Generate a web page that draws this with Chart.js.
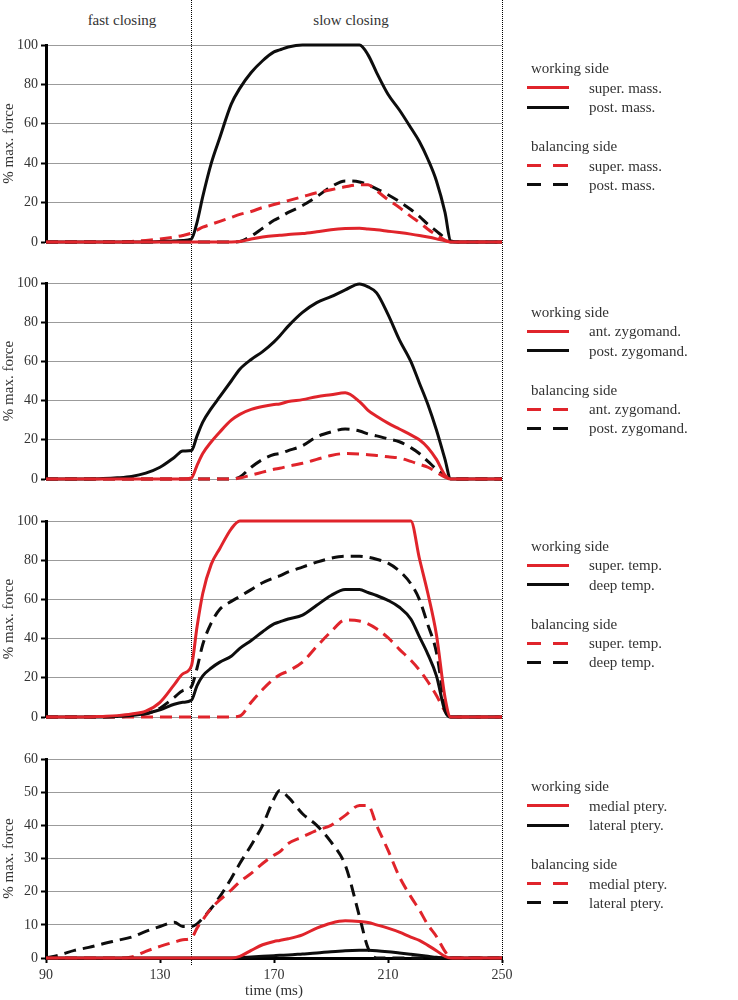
<!DOCTYPE html>
<html>
<head>
<meta charset="utf-8">
<title>Muscle force during closing</title>
<script src="https://cdn.jsdelivr.net/npm/chart.js@4.4.1/dist/chart.umd.min.js"></script>
<style>
  body { margin: 0; background: #fff; }
  #wrap { position: relative; width: 738px; height: 1000px; font-family: "Liberation Serif", "DejaVu Serif", serif; color: #333; }
  #wrap canvas { position: absolute; left: 0; }
  .phase { position: absolute; top: 20px; font-size: 15px; transform: translate(-50%, -50%); white-space: nowrap; }
  .leg-text { position: absolute; font-size: 15px; white-space: nowrap; transform: translateY(-50%); line-height: 1; }
  .leg-line { position: absolute; height: 3px; }
</style>
</head>
<body>
<div id="wrap">
  <div class="phase" style="left:122px">fast closing</div>
  <div class="phase" style="left:351px">slow closing</div>
  <canvas id="panel1" width="738" height="262" style="top:0px"></canvas>
  <canvas id="panel2" width="738" height="238" style="top:262px"></canvas>
  <canvas id="panel3" width="738" height="238" style="top:500px"></canvas>
  <canvas id="panel4" width="738" height="262" style="top:738px"></canvas>
</div>
<script>
// time (ms) of each sample, shared by all the traces
const time = [90, 95, 100, 105, 110, 115, 120, 125, 130, 135, 138, 141, 143, 145, 148, 151, 155, 158, 162, 166, 170, 172, 175, 180, 185, 190, 195, 200, 203, 206, 210, 214, 218, 221, 224, 227, 230, 232, 235, 240, 245, 250];

// fast / slow closing boundaries (dotted lines)
const phaseBounds = [141, 250];
const xTicks = [90, 130, 170, 210, 250];

// masseter
const superMassWork = [0,0,0,0,0,0,0,0,0,0,0,0,0,0,0,0,0,0.2,1.5,2.5,3.2,3.4,3.8,4.3,5.2,6.2,6.8,7,6.6,6.2,5.5,4.8,4,3.3,2.5,1.6,0.6,0,0,0,0,0];
const postMassWork = [0,0,0,0,0,0,0,0,0.3,0.5,0.8,1.5,10,23,40,53,70,78,86,92,96.5,97.5,99,100,100,100,100,100,95,86,75,67,58,51,42,31,15,0.5,0,0,0,0];
const superMassBal = [0,0,0,0,0,0,0.3,0.8,1.5,2.5,3.3,4.5,6,7.5,9,10.5,12.5,14,15.5,17.5,19,19.8,21,23,25,26.5,28,29,29,26,21.5,17.5,13,10,6.5,3.5,1,0,0,0,0,0];
const postMassBal = [0,0,0,0,0,0,0,0,0,0,0,0,0,0,0,0,0,0.3,3,7,11,12.5,15,18.5,23,28,31,30.5,29,27,24,20.5,16.5,13,9,5.5,2,0,0,0,0,0];

// zygomatico-mandibularis
const antZygWork = [0,0,0,0,0,0,0,0,0,0,0,0.5,7,13,19,24,30,33,35.5,37,38,38.3,39.5,40.5,42,43,44,39.5,35,32,28.5,25.5,22.5,20,16,10,2,0,0,0,0,0];
const postZygWork = [0,0,0,0,0.2,0.6,1.3,3,6,11,14.3,14.5,22,29,36,42,50,56,61,65,70,73,78,85,90,93,96.5,99.5,98,95,84,71,60,49,38,25,10,0,0,0,0,0];
const antZygBal = [0,0,0,0,0,0,0,0,0,0,0,0,0,0,0,0,0,0.5,2,3.5,5,5.5,6.5,8,10,12,13,12.8,12.4,12,11.3,10.7,9,7.5,6,3.5,1,0,0,0,0,0];
const postZygBal = [0,0,0,0,0,0,0,0,0,0,0,0,0,0,0,0,0,1,6,10,12.5,13,14.5,17,21.5,24,25.5,24.5,23,22,20.5,19,16,13,9,5,1.5,0,0,0,0,0];

// temporalis
const superTempWork = [0,0,0,0,0.3,0.7,1.5,3,7.5,16.5,22,26,46,63,78,86,96,100,100,100,100,100,100,100,100,100,100,100,100,100,100,100,100,81,63,42,10,0,0,0,0,0];
const deepTempWork = [0,0,0,0,0,0.3,0.8,1.8,3.7,6.5,7.5,8.5,16,21,25,28,31,35,39,43.5,47.5,48.5,50,52,57,62,65,65,63.5,62,59.5,56,50,41,32,21,3,0,0,0,0,0];
const superTempBal = [0,0,0,0,0,0,0,0,0,0,0,0,0,0,0,0,0,0.5,7.5,14,19.5,21.5,23.5,28,36,43.5,49.5,49,47.5,45,40.5,34.5,29,24,18,11,3,0,0,0,0,0];
const deepTempBal = [0,0,0,0,0,0,0.5,1.5,4.5,10,13.5,15.5,25,37,48,55,59,61.5,65,68.5,71,72,74,76.5,79,81,82,82,81.5,80.5,78.5,74.5,68,60,47,33,6,0,0,0,0,0];

// pterygoideus
const medPteryWork = [0,0,0,0,0,0,0,0,0,0,0,0,0,0,0,0,0,0.5,2.3,4,5,5.3,5.8,7,9,10.5,11.2,11,10.7,10,9,7.8,6.3,5.3,3.8,2.2,0.5,0,0,0,0,0];
const latPteryWork = [0,0,0,0,0,0,0,0,0,0,0,0,0,0,0,0,0,0.1,0.3,0.5,0.7,0.8,0.9,1.2,1.5,1.9,2.2,2.3,2.3,2.2,1.9,1.5,1.1,0.8,0.5,0.2,0,0,0,0,0,0];
const medPteryBal = [0,0,0,0,0,0,0.3,2,3.5,4.8,5.5,6,9,11.5,15,17.5,20.5,23,25.5,28.5,31,32,34.5,36.5,38.5,40,43,46,46,40,32.5,24.5,18.5,14.5,10,6.5,2,0,0,0,0,0];
const latPteryBal = [0,1,2.3,3.2,4.3,5.3,6.3,8,9.5,10.8,9.5,9.5,10.3,12,15,18.5,24,28.5,34,40,48,50.5,48.5,43.5,40,35,28,12.5,3,0,0,0,0,0,0,0,0,0,0,0,0,0];

const RED = "#e0242b";
const BLACK = "#0d0d0d";

Chart.defaults.font.family = "'Liberation Serif', 'DejaVu Serif', serif";
Chart.defaults.font.size = 14;
Chart.defaults.color = "#333";

// dotted lines marking the closing phases, drawn across the whole canvas
const phaseLines = {
  id: "phaseLines",
  beforeDatasetsDraw(chart, args, opts) {
    const ctx = chart.ctx;
    const bottom = opts.toAxis ? chart.chartArea.bottom + 8 : chart.height;
    ctx.save();
    ctx.strokeStyle = "#000";
    ctx.lineWidth = 1;
    ctx.setLineDash([1, 1]);
    phaseBounds.forEach((t) => {
      const px = Math.round(chart.scales.x.getPixelForValue(t)) + 0.5;
      ctx.beginPath();
      ctx.moveTo(px, 0);
      ctx.lineTo(px, bottom);
      ctx.stroke();
    });
    ctx.restore();
  },
};

function trace(label, values, color, dashed) {
  return {
    label: label,
    data: time.map((t, i) => ({ x: t, y: values[i] })),
    borderColor: color,
    borderWidth: 3,
    borderDash: dashed ? [12, 7] : [],
    pointRadius: 0,
    cubicInterpolationMode: "monotone",
    fill: false,
    clip: 6,
  };
}

function makePanel(id, traces, yMax, yStep, pad, showX) {
  const xAxis = showX
    ? {
        type: "linear", min: 90, max: 250,
        afterBuildTicks: (s) => { s.ticks = xTicks.map((v) => ({ value: v })); },
        ticks: { padding: 4, maxRotation: 0, autoSkip: false },
        grid: { drawOnChartArea: false, tickLength: 5, tickColor: "#000", tickWidth: 2 },
        border: { color: "#000", width: 3 },
        title: { display: true, text: "time (ms)", font: { size: 15 }, padding: { top: 0, bottom: 0 } },
        afterFit: (s) => { s.height = 42; },
      }
    : { type: "linear", min: 90, max: 250, display: false };

  return new Chart(document.getElementById(id), {
    type: "line",
    data: { datasets: traces },
    options: {
      responsive: false,
      animation: false,
      layout: { padding: { top: pad[0], bottom: pad[1], left: 0, right: 236 } },
      scales: {
        x: xAxis,
        y: {
          min: 0, max: yMax,
          ticks: { stepSize: yStep, padding: 3 },
          grid: { color: "#9b9b9b", lineWidth: 1, tickLength: 5, tickColor: "#000", tickWidth: 2 },
          border: { color: "#000", width: 3 },
          title: { display: true, text: "% max. force", font: { size: 15 }, padding: { top: 0, bottom: 0 } },
          afterFit: (s) => { s.width = 46; },
        },
      },
      plugins: {
        legend: { display: false },
        tooltip: { enabled: false },
        phaseLines: { toAxis: showX },
      },
    },
    plugins: [phaseLines],
  });
}

makePanel("panel1", [
  trace("super. mass.", superMassWork, RED, false),
  trace("post. mass.", postMassWork, BLACK, false),
  trace("super. mass.", superMassBal, RED, true),
  trace("post. mass.", postMassBal, BLACK, true),
], 100, 20, [45, 20], false);

makePanel("panel2", [
  trace("ant. zygomand.", antZygWork, RED, false),
  trace("post. zygomand.", postZygWork, BLACK, false),
  trace("ant. zygomand.", antZygBal, RED, true),
  trace("post. zygomand.", postZygBal, BLACK, true),
], 100, 20, [21, 21], false);

makePanel("panel3", [
  trace("super. temp.", superTempWork, RED, false),
  trace("deep temp.", deepTempWork, BLACK, false),
  trace("super. temp.", superTempBal, RED, true),
  trace("deep temp.", deepTempBal, BLACK, true),
], 100, 20, [21, 21], false);

makePanel("panel4", [
  trace("medial ptery.", medPteryWork, RED, false),
  trace("lateral ptery.", latPteryWork, BLACK, false),
  trace("medial ptery.", medPteryBal, RED, true),
  trace("lateral ptery.", latPteryBal, BLACK, true),
], 60, 10, [21, 0], true);

// legends on the right of each panel
const legendTops = [68, 311.5, 545.5, 786];
const legendNames = [
  ["super. mass.", "post. mass."],
  ["ant. zygomand.", "post. zygomand."],
  ["super. temp.", "deep temp."],
  ["medial ptery.", "lateral ptery."],
];
const wrap = document.getElementById("wrap");

function addText(txt, x, y) {
  const el = document.createElement("div");
  el.className = "leg-text";
  el.textContent = txt;
  el.style.left = x + "px";
  el.style.top = y + "px";
  wrap.appendChild(el);
}

function addSample(y, color, dashed) {
  const pieces = dashed ? [[527, 14], [553, 15]] : [[527, 42]];
  pieces.forEach((p) => {
    const el = document.createElement("div");
    el.className = "leg-line";
    el.style.left = p[0] + "px";
    el.style.width = p[1] + "px";
    el.style.top = (y - 1.5) + "px";
    el.style.background = color;
    wrap.appendChild(el);
  });
}

legendTops.forEach((y0, i) => {
  const names = legendNames[i];
  addText("working side", 531, y0);
  addSample(y0 + 19.7, RED, false);
  addText(names[0], 589, y0 + 19.7);
  addSample(y0 + 39.3, BLACK, false);
  addText(names[1], 589, y0 + 39.3);
  addText("balancing side", 531, y0 + 78);
  addSample(y0 + 97.7, RED, true);
  addText(names[0], 589, y0 + 97.7);
  addSample(y0 + 116.5, BLACK, true);
  addText(names[1], 589, y0 + 116.5);
});
</script>
</body>
</html>
